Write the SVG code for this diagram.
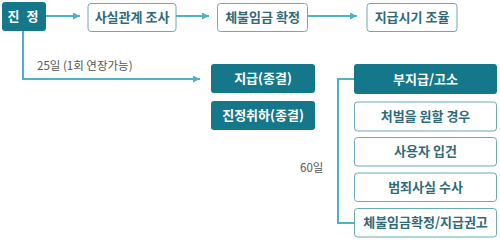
<svg xmlns="http://www.w3.org/2000/svg" width="500" height="240" viewBox="0 0 500 240">
<defs>
<marker id="ah" viewBox="0 0 10 10" refX="10" refY="5" markerWidth="7" markerHeight="7" markerUnits="userSpaceOnUse" orient="auto"><path d="M0,0 L10,5 L0,10 z" fill="#4fb1c4"/></marker>
</defs>
<style>
.dark{fill:#15788a;}
.light{fill:#fff;stroke:#6aaab6;stroke-width:1;}
.tw{fill:#fff;font-family:"Noto Sans CJK KR","Noto Sans",sans-serif;font-weight:bold;font-size:13px;text-anchor:middle;}
.td{fill:#2f6a78;font-family:"Noto Sans CJK KR","Noto Sans",sans-serif;font-weight:bold;font-size:13px;text-anchor:middle;}
.lbl{fill:#555;font-family:"Noto Sans CJK KR","Noto Sans",sans-serif;font-size:11.5px;}
.conn{fill:none;stroke:#4fb1c4;stroke-width:2;}
</style>
<g id="connectors">
<line class="conn" x1="46" y1="16" x2="80" y2="16" marker-end="url(#ah)"/>
<line class="conn" x1="176" y1="16" x2="209" y2="16" marker-end="url(#ah)"/>
<line class="conn" x1="308" y1="16" x2="357" y2="16" marker-end="url(#ah)"/>
<polyline class="conn" points="23,31 23,79 200,79" marker-end="url(#ah)"/>
<polyline class="conn" points="354,79 338,79 338,223 354,223"/>
<text class="lbl" x="37" y="70">25일 (1회 연장가능)</text>
<text class="lbl" x="300" y="172">60일</text>
</g>
<g id="n-jinjeong"><rect class="dark" x="2" y="2" width="44" height="29" rx="3"/><text class="tw" x="24" y="21" font-size="13" letter-spacing="2">진 정</text></g>
<g id="n-fact"><rect class="light" x="88" y="3.5" width="88" height="28" rx="3"/><text class="td" x="132" y="22">사실관계 조사</text></g>
<g id="n-confirm"><rect class="light" x="217.5" y="3.5" width="90" height="28" rx="3"/><text class="td" x="262.5" y="22">체불임금 확정</text></g>
<g id="n-schedule"><rect class="light" x="367" y="3.5" width="90" height="28" rx="3"/><text class="td" x="412" y="22">지급시기 조율</text></g>
<g id="n-paid"><rect class="dark" x="211" y="64" width="104" height="29" rx="3"/><text class="tw" x="263" y="83">지급(종결)</text></g>
<g id="n-withdraw"><rect class="dark" x="211" y="101" width="104" height="29" rx="3"/><text class="tw" x="263" y="120">진정취하(종결)</text></g>
<g id="n-nonpay"><rect class="dark" x="354" y="64" width="143" height="30" rx="3"/><text class="tw" x="425.5" y="83.5">부지급/고소</text></g>
<g id="n-punish"><rect class="light" x="354.5" y="102" width="142" height="29" rx="3"/><text class="td" x="425.5" y="121">처벌을 원할 경우</text></g>
<g id="n-book"><rect class="light" x="354.5" y="137.5" width="142" height="28.5" rx="3"/><text class="td" x="425.5" y="156">사용자 입건</text></g>
<g id="n-invest"><rect class="light" x="354.5" y="173" width="142" height="28.5" rx="3"/><text class="td" x="425.5" y="192">범죄사실 수사</text></g>
<g id="n-recommend"><rect class="light" x="354.5" y="208.5" width="142" height="28.5" rx="3"/><text class="td" x="425.5" y="227">체불임금확정/지급권고</text></g>
</svg>
